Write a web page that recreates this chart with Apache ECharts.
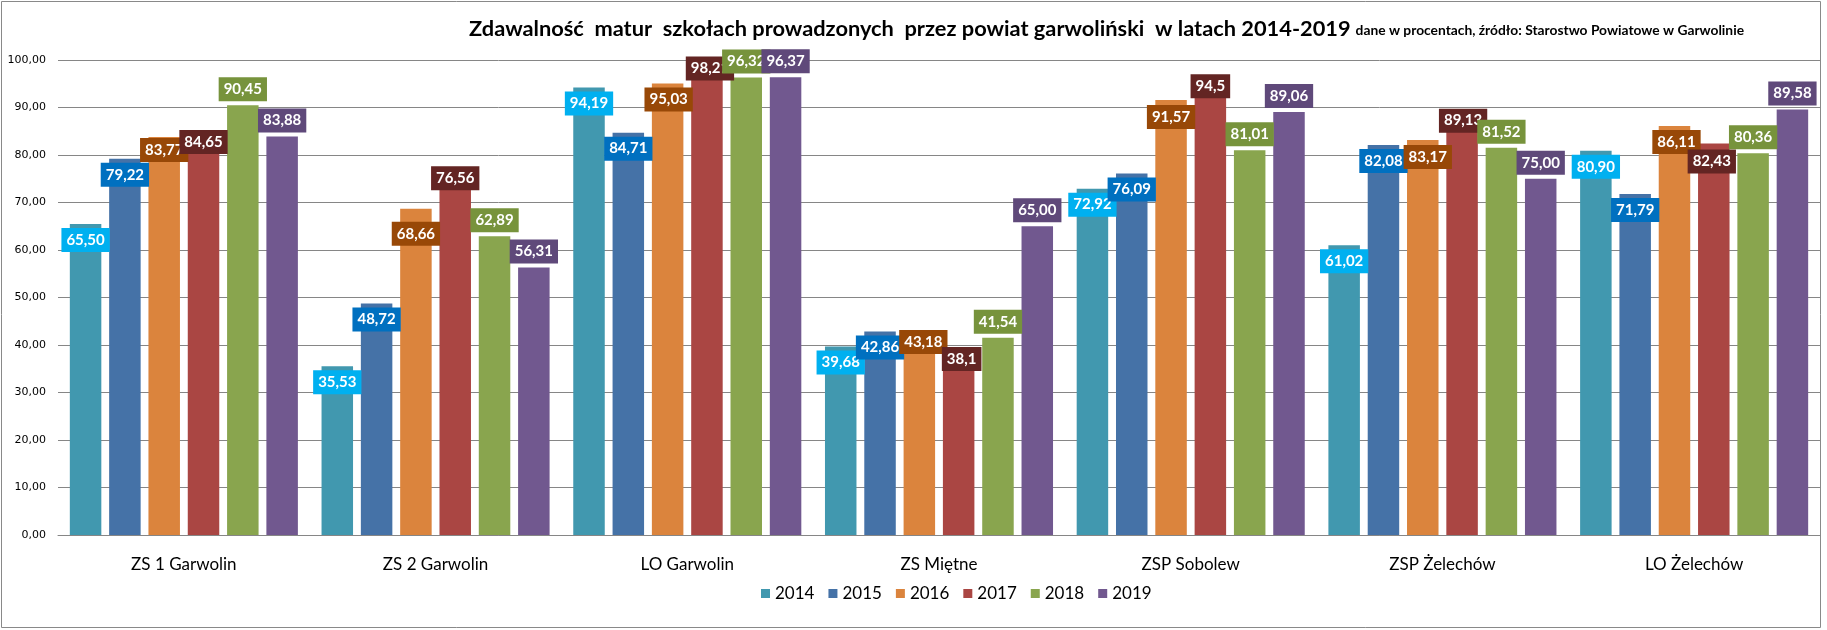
<!DOCTYPE html>
<html>
<head>
<meta charset="utf-8">
<script src="https://cdn.jsdelivr.net/npm/echarts@6/dist/echarts.min.js"></script>
<style>
html,body{margin:0;padding:0;background:#fff;}
#chart{width:1827px;height:630px;}
</style>
</head>
<body>
<div id="chart"></div>
<script>
const categories = ['ZS 1 Garwolin', 'ZS 2 Garwolin', 'LO Garwolin', 'ZS Miętne', 'ZSP Sobolew', 'ZSP Żelechów', 'LO Żelechów'];
const years = ['2014', '2015', '2016', '2017', '2018', '2019'];
const v2014 = [65.50, 35.53, 94.19, 39.68, 72.92, 61.02, 80.90];
const v2015 = [79.22, 48.72, 84.71, 42.86, 76.09, 82.08, 71.79];
const v2016 = [83.77, 68.66, 95.03, 43.18, 91.57, 83.17, 86.11];
const v2017 = [84.65, 76.56, 98.21, 38.1, 94.5, 89.13, 82.43];
const v2018 = [90.45, 62.89, 96.32, 41.54, 81.01, 81.52, 80.36];
const v2019 = [83.88, 56.31, 96.37, 65.00, 89.06, 75.00, 89.58];
const yTicks = {min: 0, max: 100, interval: 10};

// label decimals as printed in the source
const labelDecimals = [
  [2,2,2,2,2,2,2],
  [2,2,2,2,2,2,2],
  [2,2,2,2,2,2,2],
  [2,2,2,1,1,2,2],
  [2,2,2,2,2,2,2],
  [2,2,2,2,2,2,2]
];

// styling
const barColors = ['#4198AF', '#4572A7', '#DB843D', '#AA4643', '#89A54E', '#71588F'];
const labelBg = ['#00B0F0', '#0070C0', '#984807', '#632523', '#77933C', '#5F497A'];
// label box top relative to bar top (px, positive = inside), and x shift
const labelTop = [
  [4,4,4,4,4,4,4],
  [4,4,4,4,4,4,4],
  [1,13,4,0,5,5,4],
  [-3,-5,-12,-7,-12,-3,6],
  null,
  null
];
const labelDx = [
  [0,0,0,0,0,0,0],
  [0,0,0,0,0,0,0],
  [0,0,1,4,0,5,2],
  [0,0,3,3,0,1,-2],
  null,
  null
];

const allValues = [v2014, v2015, v2016, v2017, v2018, v2019];

function fmt(v, d) { return v.toFixed(d).replace('.', ','); }

const series = years.map(function (y, si) {
  const vals = allValues[si];
  const outside = labelTop[si] === null;
  return {
    name: y,
    type: 'bar',
    barWidth: 31.5,
    barGap: '24.8%',
    itemStyle: {color: barColors[si]},
    data: vals.map(function (v, ci) {
      const item = {value: v};
      if (!outside) {
        item.label = {offset: [labelDx[si][ci], labelTop[si][ci] - 4]};
      }
      return item;
    }),
    label: {
      show: true,
      position: outside ? 'top' : 'insideTop',
      distance: 4,
      formatter: function (p) { return fmt(p.value, labelDecimals[si][p.dataIndex]); },
      color: '#fff',
      fontFamily: 'Lato',
      fontWeight: 'bold',
      fontSize: 15,
      lineHeight: 18,
      padding: [3, 5, 3, 5],
      backgroundColor: labelBg[si]
    }
  };
});

const chart = echarts.init(document.getElementById('chart'), null, {renderer: 'canvas'});
chart.setOption({
  animation: false,
  backgroundColor: '#fff',
  title: {
    left: 464,
    top: 13,
    text: '{a|Zdawalność  matur  szkołach prowadzonych  przez powiat garwoliński  w latach 2014-2019} {b|dane w procentach, źródło: Starostwo Powiatowe w Garwolinie}',
    textStyle: {
      rich: {
        a: {fontFamily: 'Lato', fontWeight: 'bold', fontSize: 21.8, color: '#000', verticalAlign: 'bottom'},
        b: {fontFamily: 'Lato', fontWeight: 'bold', fontSize: 13.8, color: '#000', verticalAlign: 'bottom', padding: [0, 0, 2, 0]}
      }
    }
  },
  legend: {
    data: years,
    left: 756,
    top: 580,
    icon: 'rect',
    itemWidth: 9,
    itemHeight: 9,
    itemGap: 14,
    textStyle: {fontFamily: 'Lato', fontSize: 17, color: '#000'}
  },
  grid: {left: 58, right: 7, top: 60, bottom: 95},
  xAxis: {
    type: 'category',
    data: categories,
    axisLine: {lineStyle: {color: '#868686'}},
    axisTick: {show: false},
    axisLabel: {fontFamily: 'Lato', fontSize: 17, color: '#000', margin: 21}
  },
  yAxis: {
    type: 'value',
    min: yTicks.min,
    max: yTicks.max,
    interval: yTicks.interval,
    axisLine: {show: false},
    axisTick: {show: false},
    splitLine: {lineStyle: {color: '#868686'}},
    axisLabel: {
      fontFamily: 'DejaVu Sans', fontSize: 11, color: '#000', margin: 12,
      formatter: function (v) { return fmt(v, 2); }
    }
  },
  graphic: [{
    type: 'rect',
    shape: {x: 1.5, y: 1.5, width: 1819, height: 626},
    style: {fill: 'none', stroke: '#898989', lineWidth: 1},
    silent: true
  }],
  series: series
});
</script>
</body>
</html>
